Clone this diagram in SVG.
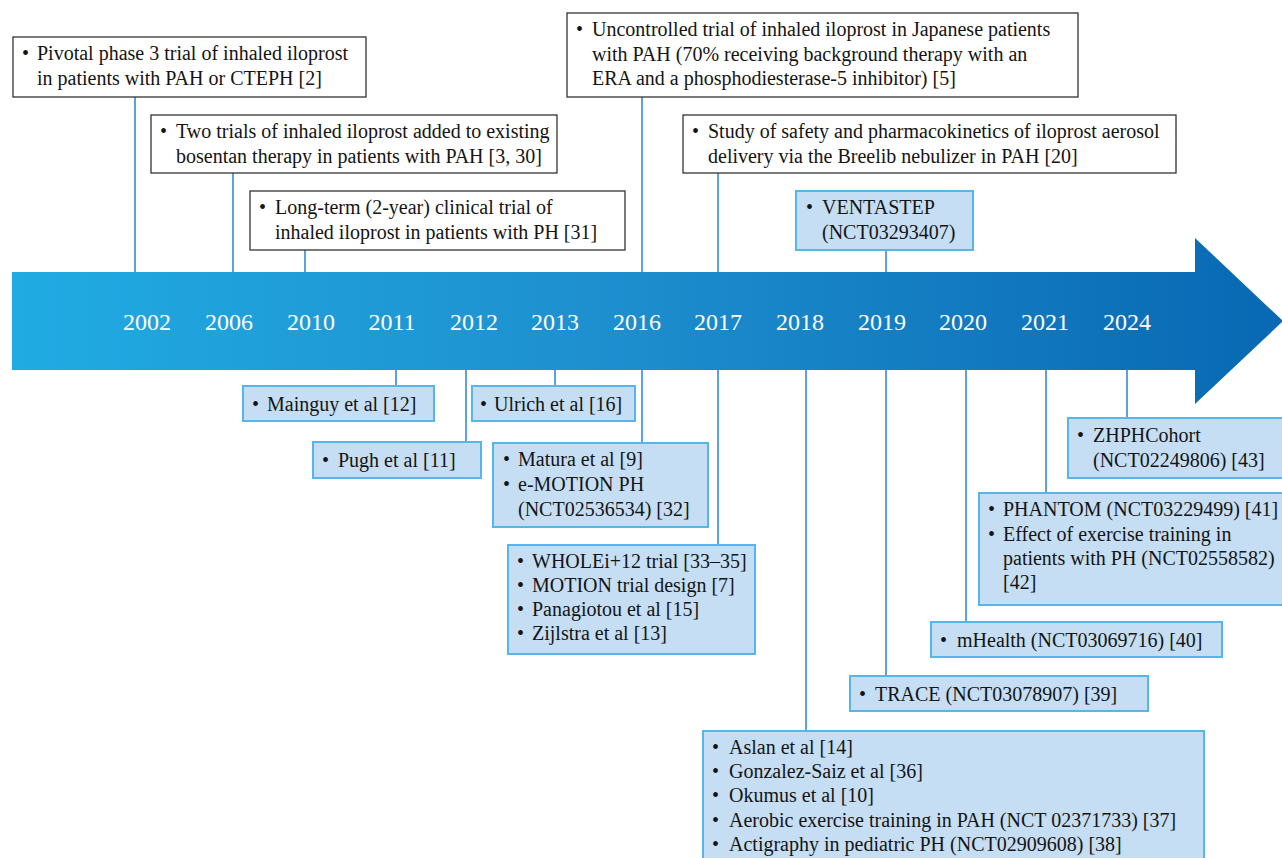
<svg xmlns="http://www.w3.org/2000/svg" width="1282" height="858" viewBox="0 0 1282 858">
<defs>
<linearGradient id="ag" x1="12" y1="0" x2="1283" y2="0" gradientUnits="userSpaceOnUse">
<stop offset="0" stop-color="#20abe3"/>
<stop offset="0.45" stop-color="#1e90d0"/>
<stop offset="1" stop-color="#0868b3"/>
</linearGradient>
<style>
.wbox{fill:#ffffff;stroke:#333333;stroke-width:1.3}
.bbox{fill:#c5def4;stroke:#56b6e9;stroke-width:2}
.t{font-family:"Liberation Serif","Times New Roman",serif;font-size:20px;fill:#141414}
.yr{font-family:"Liberation Serif","Times New Roman",serif;font-size:24px;fill:#ffffff;text-anchor:middle}
.c{stroke:#2f8fd2;stroke-width:1.6;fill:none}
</style>
</defs>
<rect x="0" y="0" width="1282" height="858" fill="#ffffff"/>

<g id="timeline">
<path d="M12,272 H1195 V238 L1283,321 L1195,404 V370 H12 Z" fill="url(#ag)"/>
<text class="yr" x="147" y="330">2002</text>
<text class="yr" x="229" y="330">2006</text>
<text class="yr" x="311" y="330">2010</text>
<text class="yr" x="392" y="330">2011</text>
<text class="yr" x="474" y="330">2012</text>
<text class="yr" x="555" y="330">2013</text>
<text class="yr" x="637" y="330">2016</text>
<text class="yr" x="718" y="330">2017</text>
<text class="yr" x="800" y="330">2018</text>
<text class="yr" x="882" y="330">2019</text>
<text class="yr" x="963" y="330">2020</text>
<text class="yr" x="1045" y="330">2021</text>
<text class="yr" x="1127" y="330">2024</text>
</g>

<g id="connectors">
<line class="c" x1="135" y1="97" x2="135" y2="272"/>
<line class="c" x1="233" y1="173" x2="233" y2="272"/>
<line class="c" x1="305" y1="250" x2="305" y2="272"/>
<line class="c" x1="642" y1="97" x2="642" y2="272"/>
<line class="c" x1="718" y1="173" x2="718" y2="272"/>
<line class="c" x1="886" y1="250" x2="886" y2="272"/>
<line class="c" x1="396" y1="370" x2="396" y2="386"/>
<line class="c" x1="466" y1="370" x2="466" y2="442"/>
<line class="c" x1="555" y1="370" x2="555" y2="386"/>
<line class="c" x1="642" y1="370" x2="642" y2="443"/>
<line class="c" x1="718" y1="370" x2="718" y2="545"/>
<line class="c" x1="806" y1="370" x2="806" y2="731"/>
<line class="c" x1="886" y1="370" x2="886" y2="676"/>
<line class="c" x1="966" y1="370" x2="966" y2="622"/>
<line class="c" x1="1046" y1="370" x2="1046" y2="493"/>
<line class="c" x1="1127" y1="370" x2="1127" y2="418"/>
</g>

<g id="n2002">
<rect class="wbox" x="13" y="37" width="353" height="60"/>
<text class="t"><tspan x="22" y="60">•</tspan><tspan x="37" y="60">Pivotal phase 3 trial of inhaled iloprost</tspan><tspan x="37" y="85">in patients with PAH or CTEPH [2]</tspan></text>
</g>
<g id="n2006">
<rect class="wbox" x="151" y="115" width="406" height="58"/>
<text class="t"><tspan x="160" y="138">•</tspan><tspan x="176" y="138">Two trials of inhaled iloprost added to existing</tspan><tspan x="176" y="163">bosentan therapy in patients with PAH [3, 30]</tspan></text>
</g>
<g id="n2010">
<rect class="wbox" x="250" y="191" width="375" height="59"/>
<text class="t"><tspan x="259" y="214">•</tspan><tspan x="275" y="214">Long-term (2-year) clinical trial of</tspan><tspan x="275" y="239">inhaled iloprost in patients with PH [31]</tspan></text>
</g>
<g id="n2016top">
<rect class="wbox" x="567" y="13" width="511" height="84"/>
<text class="t"><tspan x="576" y="36">•</tspan><tspan x="592" y="36">Uncontrolled trial of inhaled iloprost in Japanese patients</tspan><tspan x="592" y="61">with PAH (70% receiving background therapy with an</tspan><tspan x="592" y="85">ERA and a phosphodiesterase-5 inhibitor) [5]</tspan></text>
</g>
<g id="n2017top">
<rect class="wbox" x="683" y="115" width="493" height="58"/>
<text class="t"><tspan x="692" y="138">•</tspan><tspan x="708" y="138">Study of safety and pharmacokinetics of iloprost aerosol</tspan><tspan x="708" y="163">delivery via the Breelib nebulizer in PAH [20]</tspan></text>
</g>
<g id="n2019top">
<rect class="bbox" x="796" y="191" width="177" height="59"/>
<text class="t"><tspan x="806" y="214">•</tspan><tspan x="822" y="214">VENTASTEP</tspan><tspan x="822" y="239">(NCT03293407)</tspan></text>
</g>

<g id="n2011">
<rect class="bbox" x="243" y="386" width="191" height="35"/>
<text class="t"><tspan x="252" y="411">•</tspan><tspan x="267" y="411">Mainguy et al [12]</tspan></text>
</g>
<g id="n2012">
<rect class="bbox" x="313" y="442" width="168" height="36"/>
<text class="t"><tspan x="322" y="467">•</tspan><tspan x="338" y="467">Pugh et al [11]</tspan></text>
</g>
<g id="n2013">
<rect class="bbox" x="472" y="386" width="163" height="35"/>
<text class="t"><tspan x="480" y="411">•</tspan><tspan x="494" y="411">Ulrich et al [16]</tspan></text>
</g>
<g id="n2016">
<rect class="bbox" x="493" y="443" width="215" height="84"/>
<text class="t"><tspan x="503" y="466">•</tspan><tspan x="518" y="466">Matura et al [9]</tspan><tspan x="503" y="491">•</tspan><tspan x="518" y="491">e-MOTION PH</tspan><tspan x="518" y="516">(NCT02536534) [32]</tspan></text>
</g>
<g id="n2017">
<rect class="bbox" x="508" y="545" width="247" height="109"/>
<text class="t"><tspan x="517" y="568">•</tspan><tspan x="532" y="568">WHOLEi+12 trial [33–35]</tspan><tspan x="517" y="592">•</tspan><tspan x="532" y="592">MOTION trial design [7]</tspan><tspan x="517" y="616">•</tspan><tspan x="532" y="616">Panagiotou et al [15]</tspan><tspan x="517" y="640">•</tspan><tspan x="532" y="640">Zijlstra et al [13]</tspan></text>
</g>
<g id="n2018">
<rect class="bbox" x="703" y="731" width="501" height="140"/>
<text class="t"><tspan x="712" y="754">•</tspan><tspan x="729" y="754">Aslan et al [14]</tspan><tspan x="712" y="778">•</tspan><tspan x="729" y="778">Gonzalez-Saiz et al [36]</tspan><tspan x="712" y="802">•</tspan><tspan x="729" y="802">Okumus et al [10]</tspan><tspan x="712" y="827">•</tspan><tspan x="729" y="827">Aerobic exercise training in PAH (NCT 02371733) [37]</tspan><tspan x="712" y="851">•</tspan><tspan x="729" y="851">Actigraphy in pediatric PH (NCT02909608) [38]</tspan></text>
</g>
<g id="n2019">
<rect class="bbox" x="850" y="676" width="298" height="35"/>
<text class="t"><tspan x="859" y="701">•</tspan><tspan x="875" y="701">TRACE (NCT03078907) [39]</tspan></text>
</g>
<g id="n2020">
<rect class="bbox" x="931" y="622" width="291" height="35"/>
<text class="t"><tspan x="940" y="647">•</tspan><tspan x="957" y="647">mHealth (NCT03069716) [40]</tspan></text>
</g>
<g id="n2021">
<rect class="bbox" x="979" y="493" width="310" height="112"/>
<text class="t"><tspan x="988" y="516">•</tspan><tspan x="1003" y="516">PHANTOM (NCT03229499) [41]</tspan><tspan x="988" y="541">•</tspan><tspan x="1003" y="541">Effect of exercise training in</tspan><tspan x="1003" y="565">patients with PH (NCT02558582)</tspan><tspan x="1003" y="589">[42]</tspan></text>
</g>
<g id="n2024">
<rect class="bbox" x="1068" y="418" width="220" height="60"/>
<text class="t"><tspan x="1077" y="442">•</tspan><tspan x="1093" y="442">ZHPHCohort</tspan><tspan x="1093" y="467">(NCT02249806) [43]</tspan></text>
</g>
</svg>
